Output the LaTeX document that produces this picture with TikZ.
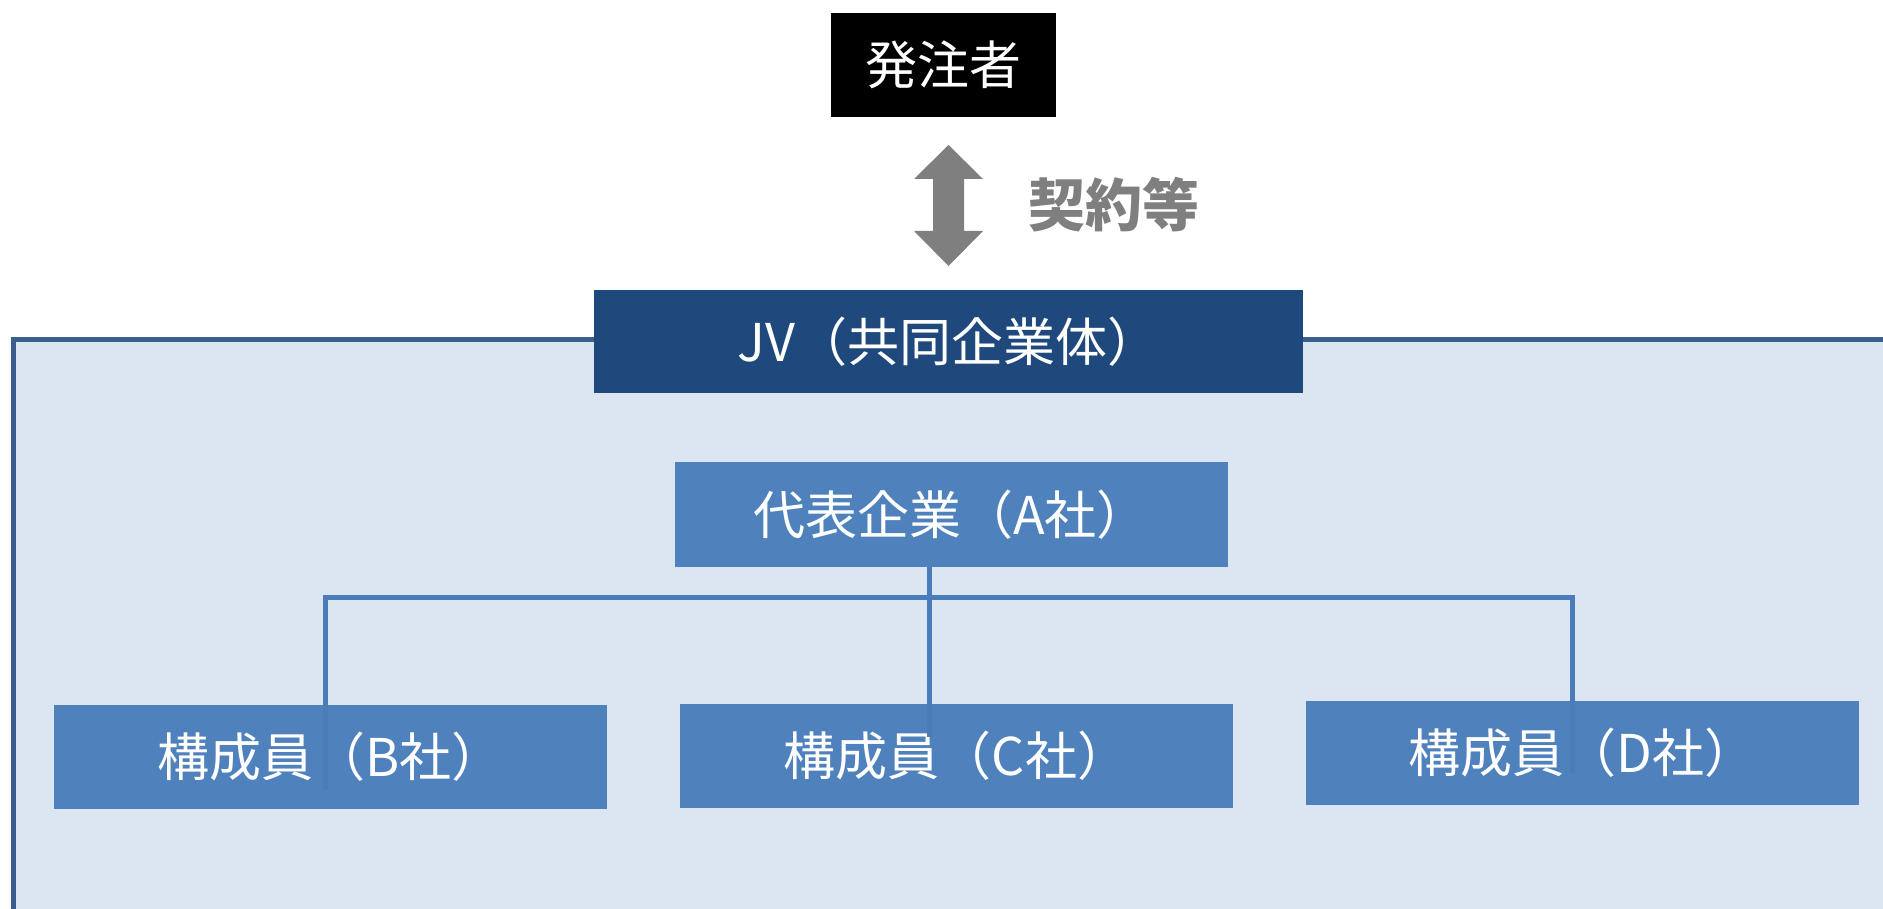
\documentclass[tikz,border=0pt]{standalone}
\usepackage{fontspec}
\newfontfamily\jp{Noto Sans CJK JP}
\definecolor{regfill}{HTML}{DCE6F2}
\definecolor{regline}{HTML}{3A5F8C}
\definecolor{jvblue}{HTML}{1F497D}
\definecolor{boxblue}{HTML}{4F81BD}
\definecolor{linkblue}{HTML}{4A7CB9}
\definecolor{arrgray}{HTML}{7F7F7F}
\begin{document}
\begin{tikzpicture}[x=0.5pt,y=-0.5pt,
  box/.style={rectangle,inner sep=0pt,outer sep=0pt,text=white,font=\jp\fontsize{26}{31}\selectfont},
  blackbox/.style={box,fill=black,minimum width=112.5pt,minimum height=52pt},
  jvbox/.style={box,fill=jvblue,minimum width=354.5pt,minimum height=51.5pt},
  membox/.style={box,fill=boxblue,minimum width=276.5pt,minimum height=52pt},
  link/.style={draw=linkblue,line width=2.5pt,line join=miter},
  dblarrow/.style={fill=arrgray,draw=none},
  note/.style={text=arrgray,font=\jp\bfseries\fontsize{28.5}{32}\selectfont,inner sep=0pt}]
\useasboundingbox (0,0) rectangle (1883,909);
% region
\fill[regfill] (13,339) rectangle (1890,915);
\draw[regline,line width=2.5pt] (13,915) -- (13,339) -- (1890,339);
% nodes
\node[blackbox] (hatchu) at (943.5,65) {発注者};
\node[jvbox] (jv) at (948.5,341.5) {JV（共同企業体）};
\node[membox,minimum height=52.5pt] (A) at (951,514.5) {代表企業（A社）};
\node[membox] (B) at (330.5,757) {構成員（B社）};
\node[membox] (C) at (956.5,756) {構成員（C社）};
\node[membox] (D) at (1582.5,753) {構成員（D社）};
% double arrow
\fill[dblarrow] (948.5,145) -- (983,179) -- (964,179) -- (964,231) -- (983,231)
  -- (948.5,266) -- (914,231) -- (933,231) -- (933,179) -- (914,179) -- cycle;
\node[note] (keiyaku) at (1114,205) {契約等};
% connectors
\coordinate (jB) at (325,597);
\coordinate (jD) at (1572,597);
\coordinate (bEnd) at (325,790);
\coordinate (cEnd) at (929,737);
\coordinate (dEnd) at (1572,773);
\draw[link] (bEnd) -- (jB) -- (jD) -- (dEnd);
\draw[link] (A.south -| cEnd) -- (cEnd);
\end{tikzpicture}
\end{document}
